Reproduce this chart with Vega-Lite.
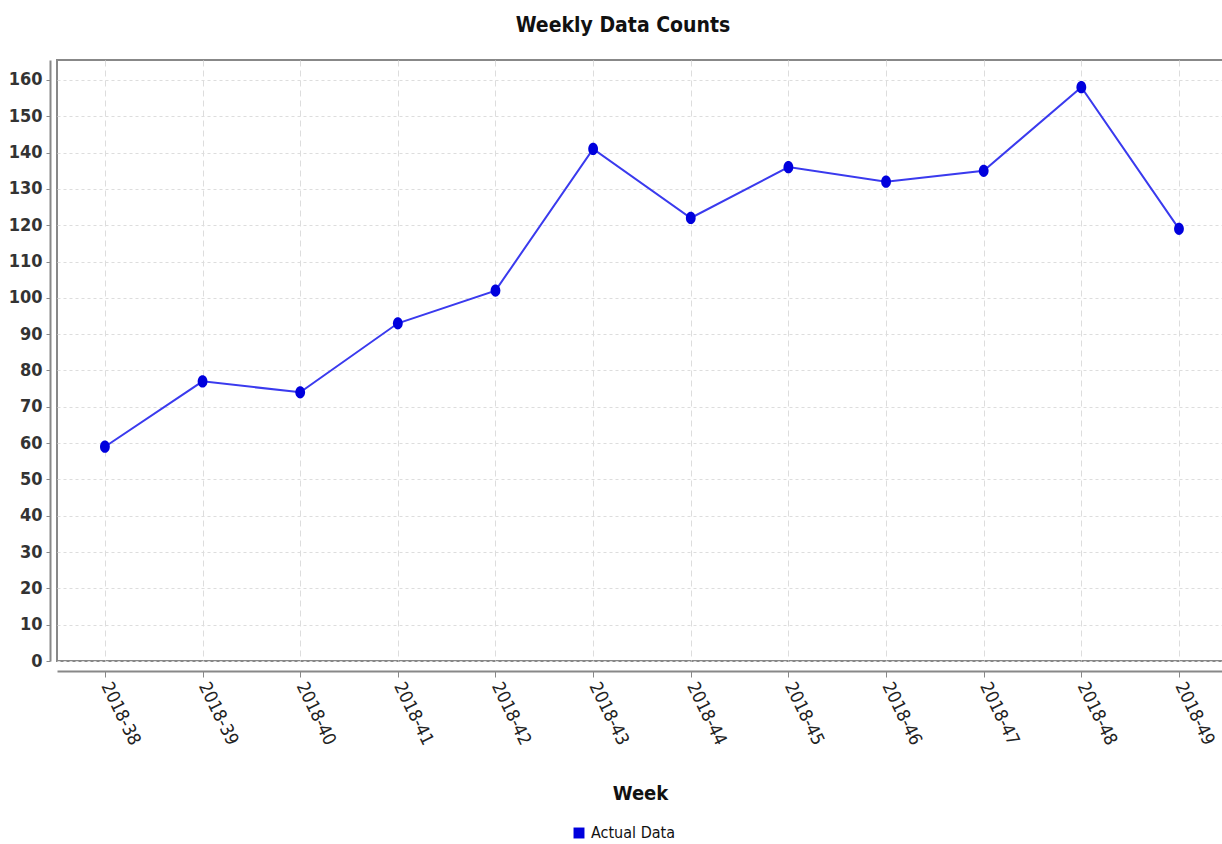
{
  "$schema": "https://vega.github.io/schema/vega-lite/v6.json",
  "width": 1168,
  "height": 601,
  "autosize": {"type": "none"},
  "padding": {"left": 57, "top": 60, "right": 0, "bottom": 183},
  "background": "white",
  "title": {
    "text": "Weekly Data Counts",
    "font": "DejaVu Sans Condensed, Liberation Sans, sans-serif",
    "fontSize": 21,
    "fontWeight": "bold",
    "color": "#111",
    "anchor": "middle",
    "dx": -18,
    "offset": 24
  },
  "config": {
    "view": {"stroke": "#888", "strokeWidth": 2},
    "font": "DejaVu Sans Condensed, Liberation Sans, sans-serif"
  },
  "data": {
    "values": [
      {"week": "2018-38", "count": 59, "series": "Actual Data"},
      {"week": "2018-39", "count": 77, "series": "Actual Data"},
      {"week": "2018-40", "count": 74, "series": "Actual Data"},
      {"week": "2018-41", "count": 93, "series": "Actual Data"},
      {"week": "2018-42", "count": 102, "series": "Actual Data"},
      {"week": "2018-43", "count": 141, "series": "Actual Data"},
      {"week": "2018-44", "count": 122, "series": "Actual Data"},
      {"week": "2018-45", "count": 136, "series": "Actual Data"},
      {"week": "2018-46", "count": 132, "series": "Actual Data"},
      {"week": "2018-47", "count": 135, "series": "Actual Data"},
      {"week": "2018-48", "count": 158, "series": "Actual Data"},
      {"week": "2018-49", "count": 119, "series": "Actual Data"}
    ]
  },
  "encoding": {
    "x": {
      "field": "week",
      "type": "ordinal",
      "scale": {"type": "point", "padding": 0.481, "align": 0.51},
      "axis": {
        "title": "Week",
        "titleFontSize": 20,
        "titleFontWeight": "bold",
        "titleColor": "#111",
        "titleY": 112,
        "titleX": 583,
        "labelAngle": 64,
        "labelAlign": "left",
        "labelBaseline": "middle",
        "labelFontSize": 18,
        "labelColor": "#222",
        "labelPadding": 6,
        "offset": 10,
        "domainColor": "#888",
        "domainWidth": 2,
        "tickColor": "#888",
        "tickSize": 6,
        "grid": true,
        "gridColor": "#ddd",
        "gridDash": [6, 4]
      }
    },
    "y": {
      "field": "count",
      "type": "quantitative",
      "scale": {"domain": [0, 165.5], "nice": false},
      "axis": {
        "title": null,
        "values": [0, 10, 20, 30, 40, 50, 60, 70, 80, 90, 100, 110, 120, 130, 140, 150, 160],
        "labelFontSize": 18,
        "labelFontWeight": "bold",
        "labelColor": "#333",
        "offset": 7,
        "domainColor": "#888",
        "domainWidth": 2,
        "tickColor": "#888",
        "tickSize": 4,
        "labelPadding": 4,
        "grid": true,
        "gridColor": "#ddd",
        "gridDash": [3, 3]
      }
    }
  },
  "layer": [
    {
      "mark": {"type": "line", "color": "#3a3aee", "strokeWidth": 2}
    },
    {
      "mark": {"type": "point", "filled": true, "size": 150, "opacity": 1, "shape": "M-0.8,0a0.8,1,0,1,0,1.6,0a0.8,1,0,1,0,-1.6,0"},
      "encoding": {
        "color": {
          "field": "series",
          "type": "nominal",
          "scale": {"range": ["#0000dd"]},
          "legend": {
            "title": null,
            "orient": "none",
            "legendX": 514,
            "legendY": 765,
            "symbolType": "square",
            "symbolSize": 120,
            "labelFontSize": 16,
            "labelColor": "#111"
          }
        }
      }
    }
  ]
}
